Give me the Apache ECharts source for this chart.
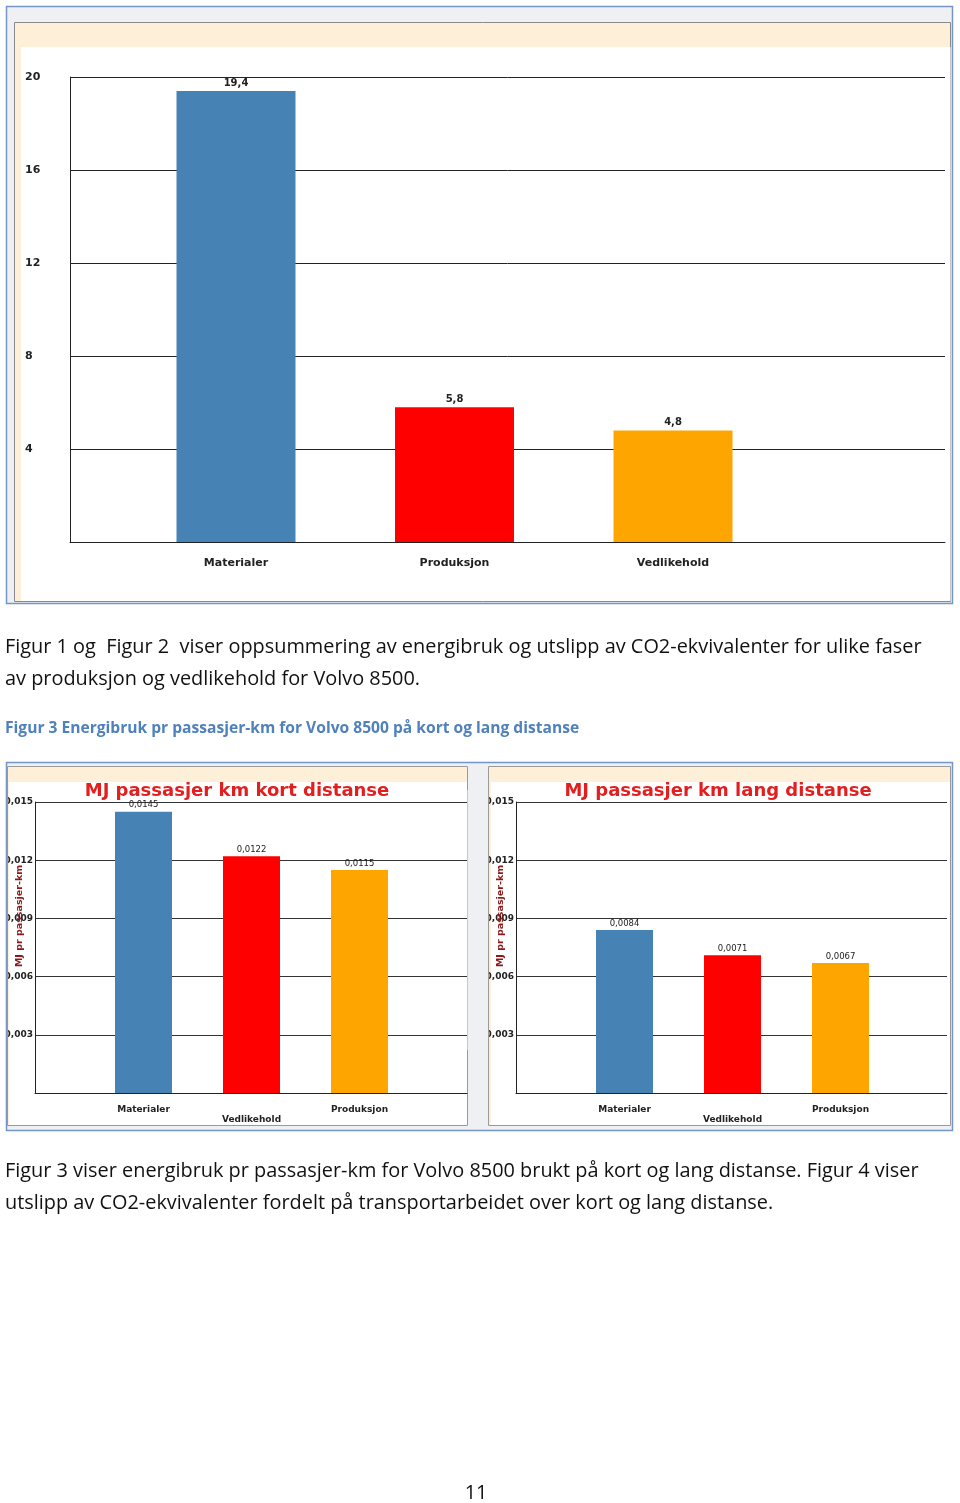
<!DOCTYPE html>
<html>
<head>
<meta charset="utf-8">
<script src="https://cdn.jsdelivr.net/npm/echarts@6/dist/echarts.min.js"></script>
<style>
html,body{margin:0;padding:0;background:#fff;}
#main{width:960px;height:1503px;}
</style>
</head>
<body>
<div id="main"></div>
<script>
// ---- data ----
const categoriesTop = ['Materialer', 'Produksjon', 'Vedlikehold'];
const valuesTop = [19.4, 5.8, 4.8];
const categoriesFig3 = ['Materialer', 'Vedlikehold', 'Produksjon'];
const valuesShort = [0.0145, 0.0122, 0.0115];
const valuesLong = [0.0084, 0.0071, 0.0067];
const titleShort = 'MJ passasjer km kort distanse';
const titleLong = 'MJ passasjer km lang distanse';
const yNameFig3 = 'MJ pr passasjer-km';
const text1a = 'Figur 1 og  Figur 2  viser oppsummering av energibruk og utslipp av CO2-ekvivalenter for ulike faser';
const text1b = 'av produksjon og vedlikehold for Volvo 8500.';
const caption3 = 'Figur 3 Energibruk pr passasjer-km for Volvo 8500 på kort og lang distanse';
const text2a = 'Figur 3 viser energibruk pr passasjer-km for Volvo 8500 brukt på kort og lang distanse. Figur 4 viser';
const text2b = 'utslipp av CO2-ekvivalenter fordelt på transportarbeidet over kort og lang distanse.';
const pageNo = '11';

// ---- styles ----
const barColorsTop = ['#4682b4', '#ff0000', '#ffa500'];
const barColorsFig3 = ['#4682b4', '#ff0000', '#ffa500'];
const BLUE = '#7396c4';
const OUTER_FILL = '#eef0f4';
const CREAM = '#fdefd8';
const bodyFont = '"Open Sans", "Noto Sans", sans-serif';
const chartFont = '"DejaVu Sans", Verdana, sans-serif';
const BODY_SIZE = 19.9;

const chart = echarts.init(document.getElementById('main'), null, {renderer: 'canvas'});

function comma(v, d) {
  return (d != null ? v.toFixed(d) : String(v)).replace('.', ',');
}

function frameX(gridIndex) {
  return {
    gridIndex, type: 'category', data: [''],
    axisLine: {show: true, lineStyle: {color: '#222', width: 1}},
    axisTick: {show: false}, axisLabel: {show: false}, splitLine: {show: false}
  };
}
function barX(gridIndex, cats, fontSize, margin, stagger) {
  return {
    gridIndex, type: 'category', data: cats,
    axisLine: {show: false}, axisTick: {show: false}, splitLine: {show: false},
    axisLabel: {
      show: true, margin, color: '#222', fontFamily: chartFont, fontWeight: 'bold', fontSize,
      lineHeight: fontSize + 1, interval: 0,
      formatter: (v, i) => (stagger && i === 1) ? '\n' + v : v
    }
  };
}

const option = {
  animation: false,
  backgroundColor: '#ffffff',
  textStyle: {fontFamily: chartFont},
  grid: [
    {left: 70, top: 77, width: 875, height: 465},
    {left: 126.75, top: 77, width: 655.5, height: 465},
    {left: 35, top: 802, width: 432, height: 291},
    {left: 89.5, top: 802, width: 324, height: 291},
    {left: 516, top: 802, width: 431, height: 291},
    {left: 570.5, top: 802, width: 324, height: 291}
  ],
  xAxis: [
    frameX(0),
    barX(1, categoriesTop, 11, 15, false),
    frameX(2),
    barX(3, categoriesFig3, 9, 12, true),
    frameX(4),
    barX(5, categoriesFig3, 9, 12, true)
  ],
  yAxis: [
    {
      gridIndex: 0, type: 'value', min: 0, max: 20, interval: 4,
      axisLine: {show: true, lineStyle: {color: '#222'}},
      axisTick: {show: false},
      splitLine: {show: true, lineStyle: {color: '#222', width: 1}},
      axisLabel: {
        show: true, align: 'left', margin: 45, color: '#222', fontWeight: 'bold', fontSize: 11,
        fontFamily: chartFont, formatter: v => v === 0 ? '' : String(v)
      }
    },
    {gridIndex: 1, type: 'value', min: 0, max: 20, interval: 4, show: false},
    {
      gridIndex: 2, type: 'value', min: 0, max: 0.015, interval: 0.003,
      axisLine: {show: true, lineStyle: {color: '#222'}},
      axisTick: {show: false},
      splitLine: {show: true, lineStyle: {color: '#333', width: 1.2}},
      axisLabel: {
        show: true, margin: 2, color: '#222', fontWeight: 'bold', fontSize: 9,
        fontFamily: chartFont, formatter: v => v === 0 ? '' : comma(v, 3)
      }
    },
    {gridIndex: 3, type: 'value', min: 0, max: 0.015, interval: 0.003, show: false},
    {
      gridIndex: 4, type: 'value', min: 0, max: 0.015, interval: 0.003,
      axisLine: {show: true, lineStyle: {color: '#222'}},
      axisTick: {show: false},
      splitLine: {show: true, lineStyle: {color: '#333', width: 1.2}},
      axisLabel: {
        show: true, margin: 2, color: '#222', fontWeight: 'bold', fontSize: 9,
        fontFamily: chartFont, formatter: v => v === 0 ? '' : comma(v, 3)
      }
    },
    {gridIndex: 5, type: 'value', min: 0, max: 0.015, interval: 0.003, show: false}
  ],
  series: [
    {
      type: 'bar', xAxisIndex: 1, yAxisIndex: 1, data: valuesTop, barWidth: 119, z: 5,
      itemStyle: {color: p => barColorsTop[p.dataIndex]},
      label: {show: true, position: 'top', distance: 3, color: '#222', fontWeight: 'bold', fontSize: 10,
        fontFamily: chartFont, formatter: p => comma(p.value)}
    },
    {
      type: 'bar', xAxisIndex: 3, yAxisIndex: 3, data: valuesShort, barWidth: 57, z: 5,
      itemStyle: {color: p => barColorsFig3[p.dataIndex]},
      label: {show: true, position: 'top', distance: 2, color: '#222', fontSize: 8.5,
        fontFamily: chartFont, formatter: p => comma(p.value)}
    },
    {
      type: 'bar', xAxisIndex: 5, yAxisIndex: 5, data: valuesLong, barWidth: 57, z: 5,
      itemStyle: {color: p => barColorsFig3[p.dataIndex]},
      label: {show: true, position: 'top', distance: 2, color: '#222', fontSize: 8.5,
        fontFamily: chartFont, formatter: p => comma(p.value)}
    }
  ],
  graphic: [
    // ---- Figure 1 frame (background) ----
    {type: 'rect', z: -10, shape: {x: 6.5, y: 6.5, width: 946, height: 597}, style: {fill: OUTER_FILL, stroke: BLUE, lineWidth: 1.5}},
    {type: 'rect', z: -9, shape: {x: 14.5, y: 22.5, width: 936, height: 579}, style: {fill: CREAM, stroke: '#8a8a8a', lineWidth: 1}},
    {type: 'rect', z: -8, shape: {x: 21, y: 47, width: 929.5, height: 554}, style: {fill: '#ffffff'}},

    // ---- Figure 3 frame (background) ----
    {type: 'rect', z: -10, shape: {x: 6.5, y: 762.5, width: 946, height: 368}, style: {fill: OUTER_FILL, stroke: BLUE, lineWidth: 1.5}},
    {type: 'rect', z: -9, shape: {x: 7.5, y: 766.5, width: 460, height: 359}, style: {fill: CREAM, stroke: '#9a9a9a', lineWidth: 1}},
    {type: 'rect', z: -8, shape: {x: 9, y: 782, width: 458, height: 343}, style: {fill: '#ffffff'}},
    {type: 'rect', z: -9, shape: {x: 488.5, y: 766.5, width: 462, height: 359}, style: {fill: CREAM, stroke: '#9a9a9a', lineWidth: 1}},
    {type: 'rect', z: -8, shape: {x: 491, y: 782, width: 459, height: 343}, style: {fill: '#ffffff'}},

    // ---- covers that clip the leading digit of the y labels ----
    {type: 'rect', z: 100, shape: {x: 0, y: 790, width: 6, height: 260}, style: {fill: '#ffffff'}},
    {type: 'line', z: 101, shape: {x1: 6.5, y1: 790, x2: 6.5, y2: 1050}, style: {stroke: BLUE, lineWidth: 1.5}},
    {type: 'line', z: 101, shape: {x1: 7.5, y1: 790, x2: 7.5, y2: 1050}, style: {stroke: '#9a9a9a', lineWidth: 1}},
    {type: 'rect', z: 100, shape: {x: 468, y: 790, width: 20, height: 260}, style: {fill: OUTER_FILL}},
    {type: 'line', z: 101, shape: {x1: 467.5, y1: 790, x2: 467.5, y2: 1050}, style: {stroke: '#c8c8c8', lineWidth: 1}},
    {type: 'line', z: 101, shape: {x1: 488.5, y1: 790, x2: 488.5, y2: 1050}, style: {stroke: '#9a9a9a', lineWidth: 1}},

    // ---- Figure 3 titles and axis names ----
    {type: 'text', z: 50, x: 237, y: 791, style: {text: titleShort, fill: '#e31e1e', font: 'bold 18px ' + chartFont, textAlign: 'center', textVerticalAlign: 'middle'}},
    {type: 'text', z: 50, x: 718, y: 791, style: {text: titleLong, fill: '#e31e1e', font: 'bold 18px ' + chartFont, textAlign: 'center', textVerticalAlign: 'middle'}},
    {type: 'text', z: 50, x: 20, y: 916, rotation: Math.PI / 2, style: {text: yNameFig3, fill: '#8b1a1a', font: 'bold 9.5px ' + chartFont, textAlign: 'center', textVerticalAlign: 'middle'}},
    {type: 'text', z: 50, x: 501, y: 916, rotation: Math.PI / 2, style: {text: yNameFig3, fill: '#8b1a1a', font: 'bold 9.5px ' + chartFont, textAlign: 'center', textVerticalAlign: 'middle'}},

    // ---- document text ----
    {type: 'text', x: 5, y: 647, style: {text: text1a, fill: '#111', font: BODY_SIZE + 'px ' + bodyFont, textVerticalAlign: 'middle'}},
    {type: 'text', x: 5, y: 679, style: {text: text1b, fill: '#111', font: BODY_SIZE + 'px ' + bodyFont, textVerticalAlign: 'middle'}},
    {type: 'text', x: 5, y: 729, style: {text: caption3, fill: '#4f81bd', font: 'bold 15.6px ' + bodyFont, textVerticalAlign: 'middle'}},
    {type: 'text', x: 5, y: 1171, style: {text: text2a, fill: '#111', font: BODY_SIZE + 'px ' + bodyFont, textVerticalAlign: 'middle'}},
    {type: 'text', x: 5, y: 1203, style: {text: text2b, fill: '#111', font: BODY_SIZE + 'px ' + bodyFont, textVerticalAlign: 'middle'}},
    {type: 'text', x: 476, y: 1493, style: {text: pageNo, fill: '#111', font: BODY_SIZE + 'px ' + bodyFont, textAlign: 'center', textVerticalAlign: 'middle'}}
  ]
};
chart.setOption(option);
</script>
</body>
</html>
